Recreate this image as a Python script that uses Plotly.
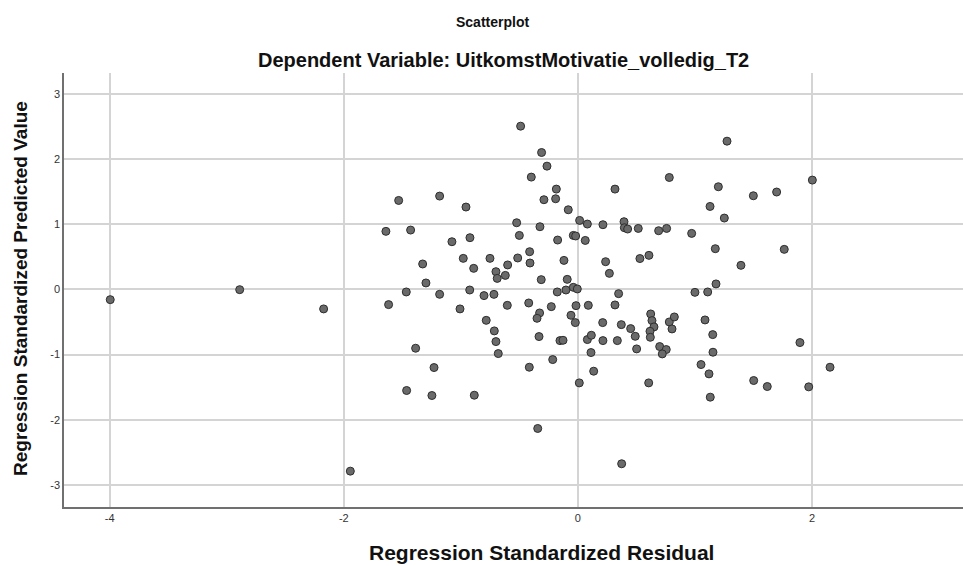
import plotly.graph_objects as go

# Regression Standardized Residual (x) and Regression Standardized Predicted Value (y)
residual = [
    -3.995, -2.889, -2.172, -1.531, -1.181, -0.956, -1.640, -1.429, -1.076, -0.922,
    -0.979, -0.890, -0.751, -1.326, -1.298, -1.466, -1.181, -0.924, -0.802, -1.617,
    -1.007, -0.783, -1.386, -1.229, -1.463, -1.247, -0.885, -1.944, -0.489, -0.310,
    -0.264, -0.398, -0.184, -0.290, -0.190, 0.317, -0.082, -0.523, -0.324, 0.015,
    0.081, 0.214, 0.394, 0.397, 0.425, 0.516, -0.500, -0.039, -0.019, -0.173,
    0.063, -0.412, -0.514, -0.409, -0.600, -0.700, -0.689, -0.620, -0.119, 0.237,
    0.269, 0.530, -0.313, -0.091, -0.176, -0.102, -0.039, -0.005, -0.717, 0.348,
    -0.603, -0.420, -0.327, -0.349, -0.227, -0.016, 0.089, 0.317, -0.059, -0.022,
    0.212, 0.371, 0.451, 0.490, 0.502, -0.714, -0.700, -0.680, -0.332, -0.153,
    -0.127, 0.081, 0.115, 0.214, 0.337, 0.112, -0.415, -0.215, 0.135, 0.012,
    -0.343, 0.374, 1.274, 0.781, 1.200, 1.499, 1.698, 1.129, 1.251, 0.690,
    0.758, 0.972, 1.174, 1.763, 1.393, 0.607, 1.180, 1.000, 1.109, 0.622,
    0.633, 0.650, 0.616, 0.619, 0.781, 0.824, 0.804, 0.699, 0.755, 0.721,
    1.086, 1.152, 1.154, 1.052, 1.120, 0.605, 1.131, 1.502, 1.618, 2.003,
    1.897, 2.154, 1.972,
]
predicted = [
    -0.158, -0.005, -0.300, 1.363, 1.430, 1.262, 0.889, 0.909, 0.730, 0.792,
    0.475, 0.322, 0.475, 0.389, 0.098, -0.040, -0.076, -0.010, -0.096, -0.234,
    -0.300, -0.475, -0.903, -1.199, -1.551, -1.628, -1.623, -2.787, 2.502, 2.098,
    1.889, 1.721, 1.537, 1.374, 1.389, 1.537, 1.220, 1.021, 0.960, 1.057,
    1.001, 0.991, 1.037, 0.945, 0.925, 0.934, 0.827, 0.827, 0.818, 0.756,
    0.750, 0.577, 0.481, 0.404, 0.374, 0.271, 0.168, 0.214, 0.444, 0.424,
    0.245, 0.472, 0.149, 0.153, -0.040, -0.010, 0.031, 0.006, -0.077, -0.066,
    -0.245, -0.209, -0.362, -0.444, -0.265, -0.250, -0.245, -0.239, -0.398, -0.510,
    -0.510, -0.541, -0.602, -0.720, -0.913, -0.637, -0.801, -0.985, -0.724, -0.786,
    -0.781, -0.770, -0.704, -0.786, -0.786, -0.969, -1.194, -1.077, -1.255, -1.434,
    -2.133, -2.674, 2.272, 1.715, 1.573, 1.435, 1.492, 1.271, 1.093, 0.899,
    0.934, 0.858, 0.623, 0.613, 0.368, 0.521, 0.083, -0.046, -0.040, -0.377,
    -0.479, -0.576, -0.643, -0.735, -0.500, -0.423, -0.607, -0.877, -0.923, -0.990,
    -0.469, -0.694, -0.964, -1.153, -1.296, -1.434, -1.653, -1.398, -1.490, 1.675,
    -0.816, -1.194, -1.495,
]

x_ticks = [-4, -2, 0, 2]
y_ticks = [-3, -2, -1, 0, 1, 2, 3]

title_text = "Scatterplot"
subtitle_text = "Dependent Variable: UitkomstMotivatie_volledig_T2"
x_title = "Regression Standardized Residual"
y_title = "Regression Standardized Predicted Value"

FONT = "Liberation Sans, Arial, sans-serif"
W, H = 963, 566
ML, MR, MT, MB = 64, 0, 73, 59

fig = go.Figure()
fig.add_trace(go.Scatter(
    x=residual, y=predicted, mode="markers",
    marker=dict(size=8, color="#6a6a6a", line=dict(color="#2e2e2e", width=1)),
    showlegend=False, hoverinfo="x+y",
))

plot_w = W - ML - MR
plot_h = H - MT - MB

def px_x(px):
    return (px - ML) / plot_w

def px_y(py):
    return (H - MB - py) / plot_h

fig.update_layout(
    width=W, height=H,
    margin=dict(l=ML, r=MR, t=MT, b=MB, autoexpand=False),
    paper_bgcolor="white", plot_bgcolor="white",
    font=dict(family=FONT, color="#000"),
    annotations=[
        dict(text="<b>%s</b>" % title_text, xref="paper", yref="paper",
             x=px_x(492), y=px_y(22), showarrow=False,
             xanchor="center", yanchor="middle", font=dict(size=14, family=FONT, color="#111")),
        dict(text="<b>%s</b>" % subtitle_text, xref="paper", yref="paper",
             x=px_x(503), y=px_y(60), showarrow=False,
             xanchor="center", yanchor="middle", font=dict(size=20, family=FONT, color="#111")),
        dict(text="<b>%s</b>" % x_title, xref="paper", yref="paper",
             x=px_x(541), y=px_y(552), showarrow=False,
             xanchor="center", yanchor="middle", font=dict(size=21, family=FONT, color="#111")),
        dict(text="<b>%s</b>" % y_title, xref="paper", yref="paper",
             x=px_x(20), y=px_y(289), showarrow=False, textangle=-90,
             xanchor="center", yanchor="middle", font=dict(size=19, family=FONT, color="#111")),
    ],
)

fig.update_xaxes(
    range=[-4.39, 3.29], tickvals=x_ticks, ticktext=[str(v) for v in x_ticks],
    showgrid=True, gridcolor="#d4d4d4", gridwidth=1.5, automargin=False,
    zeroline=False, showline=True, linecolor="#707070", linewidth=1.5,
    ticks="", tickfont=dict(size=11, color="#333", family=FONT),
)
fig.update_yaxes(
    range=[-3.337, 3.317], tickvals=y_ticks, ticktext=[str(v) for v in y_ticks],
    showgrid=True, gridcolor="#d4d4d4", gridwidth=1.5, automargin=False,
    zeroline=False, showline=True, linecolor="#707070", linewidth=1.5,
    ticks="", tickfont=dict(size=11, color="#333", family=FONT),
)

fig.write_html(
    "out.html",
    config={"displayModeBar": False},
    post_script="document.body.style.margin='0';document.body.style.overflow='hidden';",
)
